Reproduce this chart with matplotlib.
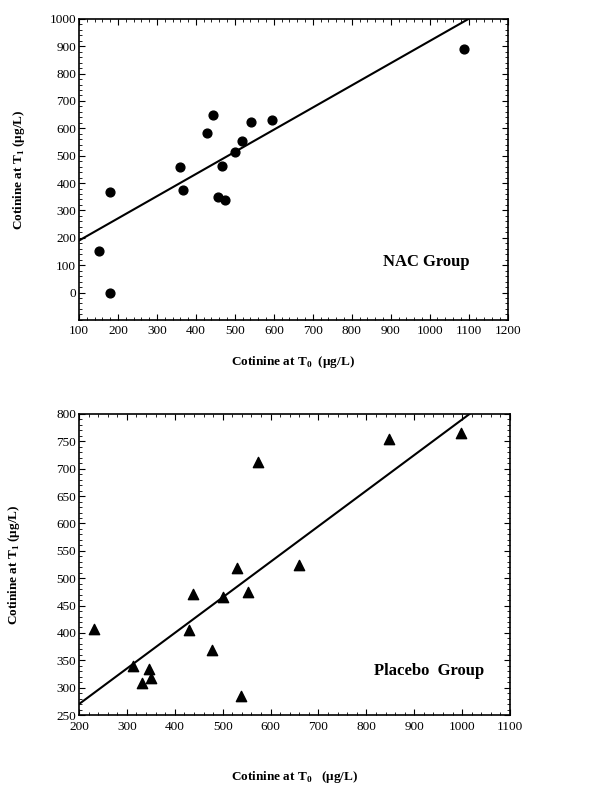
import matplotlib.pyplot as plt
import numpy as np

plt.rcParams['font.family'] = ['Liberation Serif', 'DejaVu Serif']
plt.rcParams['mathtext.fontset'] = 'custom'
plt.rcParams['mathtext.rm'] = 'Liberation Serif'
plt.rcParams['mathtext.bf'] = 'Liberation Serif:bold'

# NAC group (circles)
nac_t0 = [150, 180, 180, 360, 366, 428, 444, 456, 467, 474, 500, 518, 542, 596, 1088]
nac_t1 = [152, 367, 0, 460, 376, 584, 648, 348, 464, 338, 514, 554, 622, 629, 890]
nac_slope, nac_icept = 0.81, 109

# Placebo group (triangles)
pla_t0 = [232, 313, 332, 346, 350, 430, 437, 478, 501, 530, 538, 552, 573, 660, 848, 997]
pla_t1 = [407, 340, 309, 334, 318, 406, 472, 368, 466, 519, 285, 474, 712, 524, 755, 765]
pla_slope, pla_icept = 0.65, 140

fig = plt.figure(figsize=(6.14, 7.86), dpi=100)
ax1 = fig.add_axes([0.1287, 0.593, 0.698, 0.383])
ax2 = fig.add_axes([0.1287, 0.0903, 0.702, 0.383])


def style(ax):
    for s in ax.spines.values():
        s.set_linewidth(1.2)
    ax.tick_params(which='both', direction='in', top=True, right=True,
                   labelsize=9.5, pad=2)
    ax.tick_params(axis='x', pad=4)
    ax.tick_params(which='major', length=4)
    ax.tick_params(which='minor', length=2)
    ax.minorticks_on()


# top panel
ax1.scatter(nac_t0, nac_t1, s=40, color='black', zorder=3)
xl = np.array([100, 1100])
ax1.plot(xl, nac_slope * xl + nac_icept, color='black', lw=1.5)
ax1.set_xlim(100, 1200)
ax1.set_ylim(-100, 1000)
ax1.set_xticks(range(100, 1201, 100))
ax1.set_yticks(range(0, 1001, 100))
style(ax1)
ax1.text(990, 110, 'NAC Group', fontsize=12, fontweight='bold', ha='center', va='center')
ax1.set_xlabel(r'Cotinine at T$_\mathbf{0}$  (µg/L)', fontsize=9.5, fontweight='bold', labelpad=12)
ax1.set_ylabel(r'Cotinine at T$_\mathbf{1}$ (µg/L)', fontsize=9.5, fontweight='bold', labelpad=16)

# bottom panel
ax2.scatter(pla_t0, pla_t1, s=55, marker='^', color='black', zorder=3)
xl = np.array([200, 1015])
ax2.plot(xl, pla_slope * xl + pla_icept, color='black', lw=1.5)
ax2.set_xlim(200, 1100)
ax2.set_ylim(250, 800)
ax2.set_xticks(range(200, 1101, 100))
ax2.set_yticks(range(250, 801, 50))
style(ax2)
ax2.text(930, 330, 'Placebo  Group', fontsize=12, fontweight='bold', ha='center', va='center')
ax2.set_xlabel(r'Cotinine at T$_\mathbf{0}$   (µg/L)', fontsize=9.5, fontweight='bold', labelpad=26)
ax2.set_ylabel(r'Cotinine at T$_\mathbf{1}$ (µg/L)', fontsize=9.5, fontweight='bold', labelpad=25)

fig.savefig('out.png', dpi=100)
